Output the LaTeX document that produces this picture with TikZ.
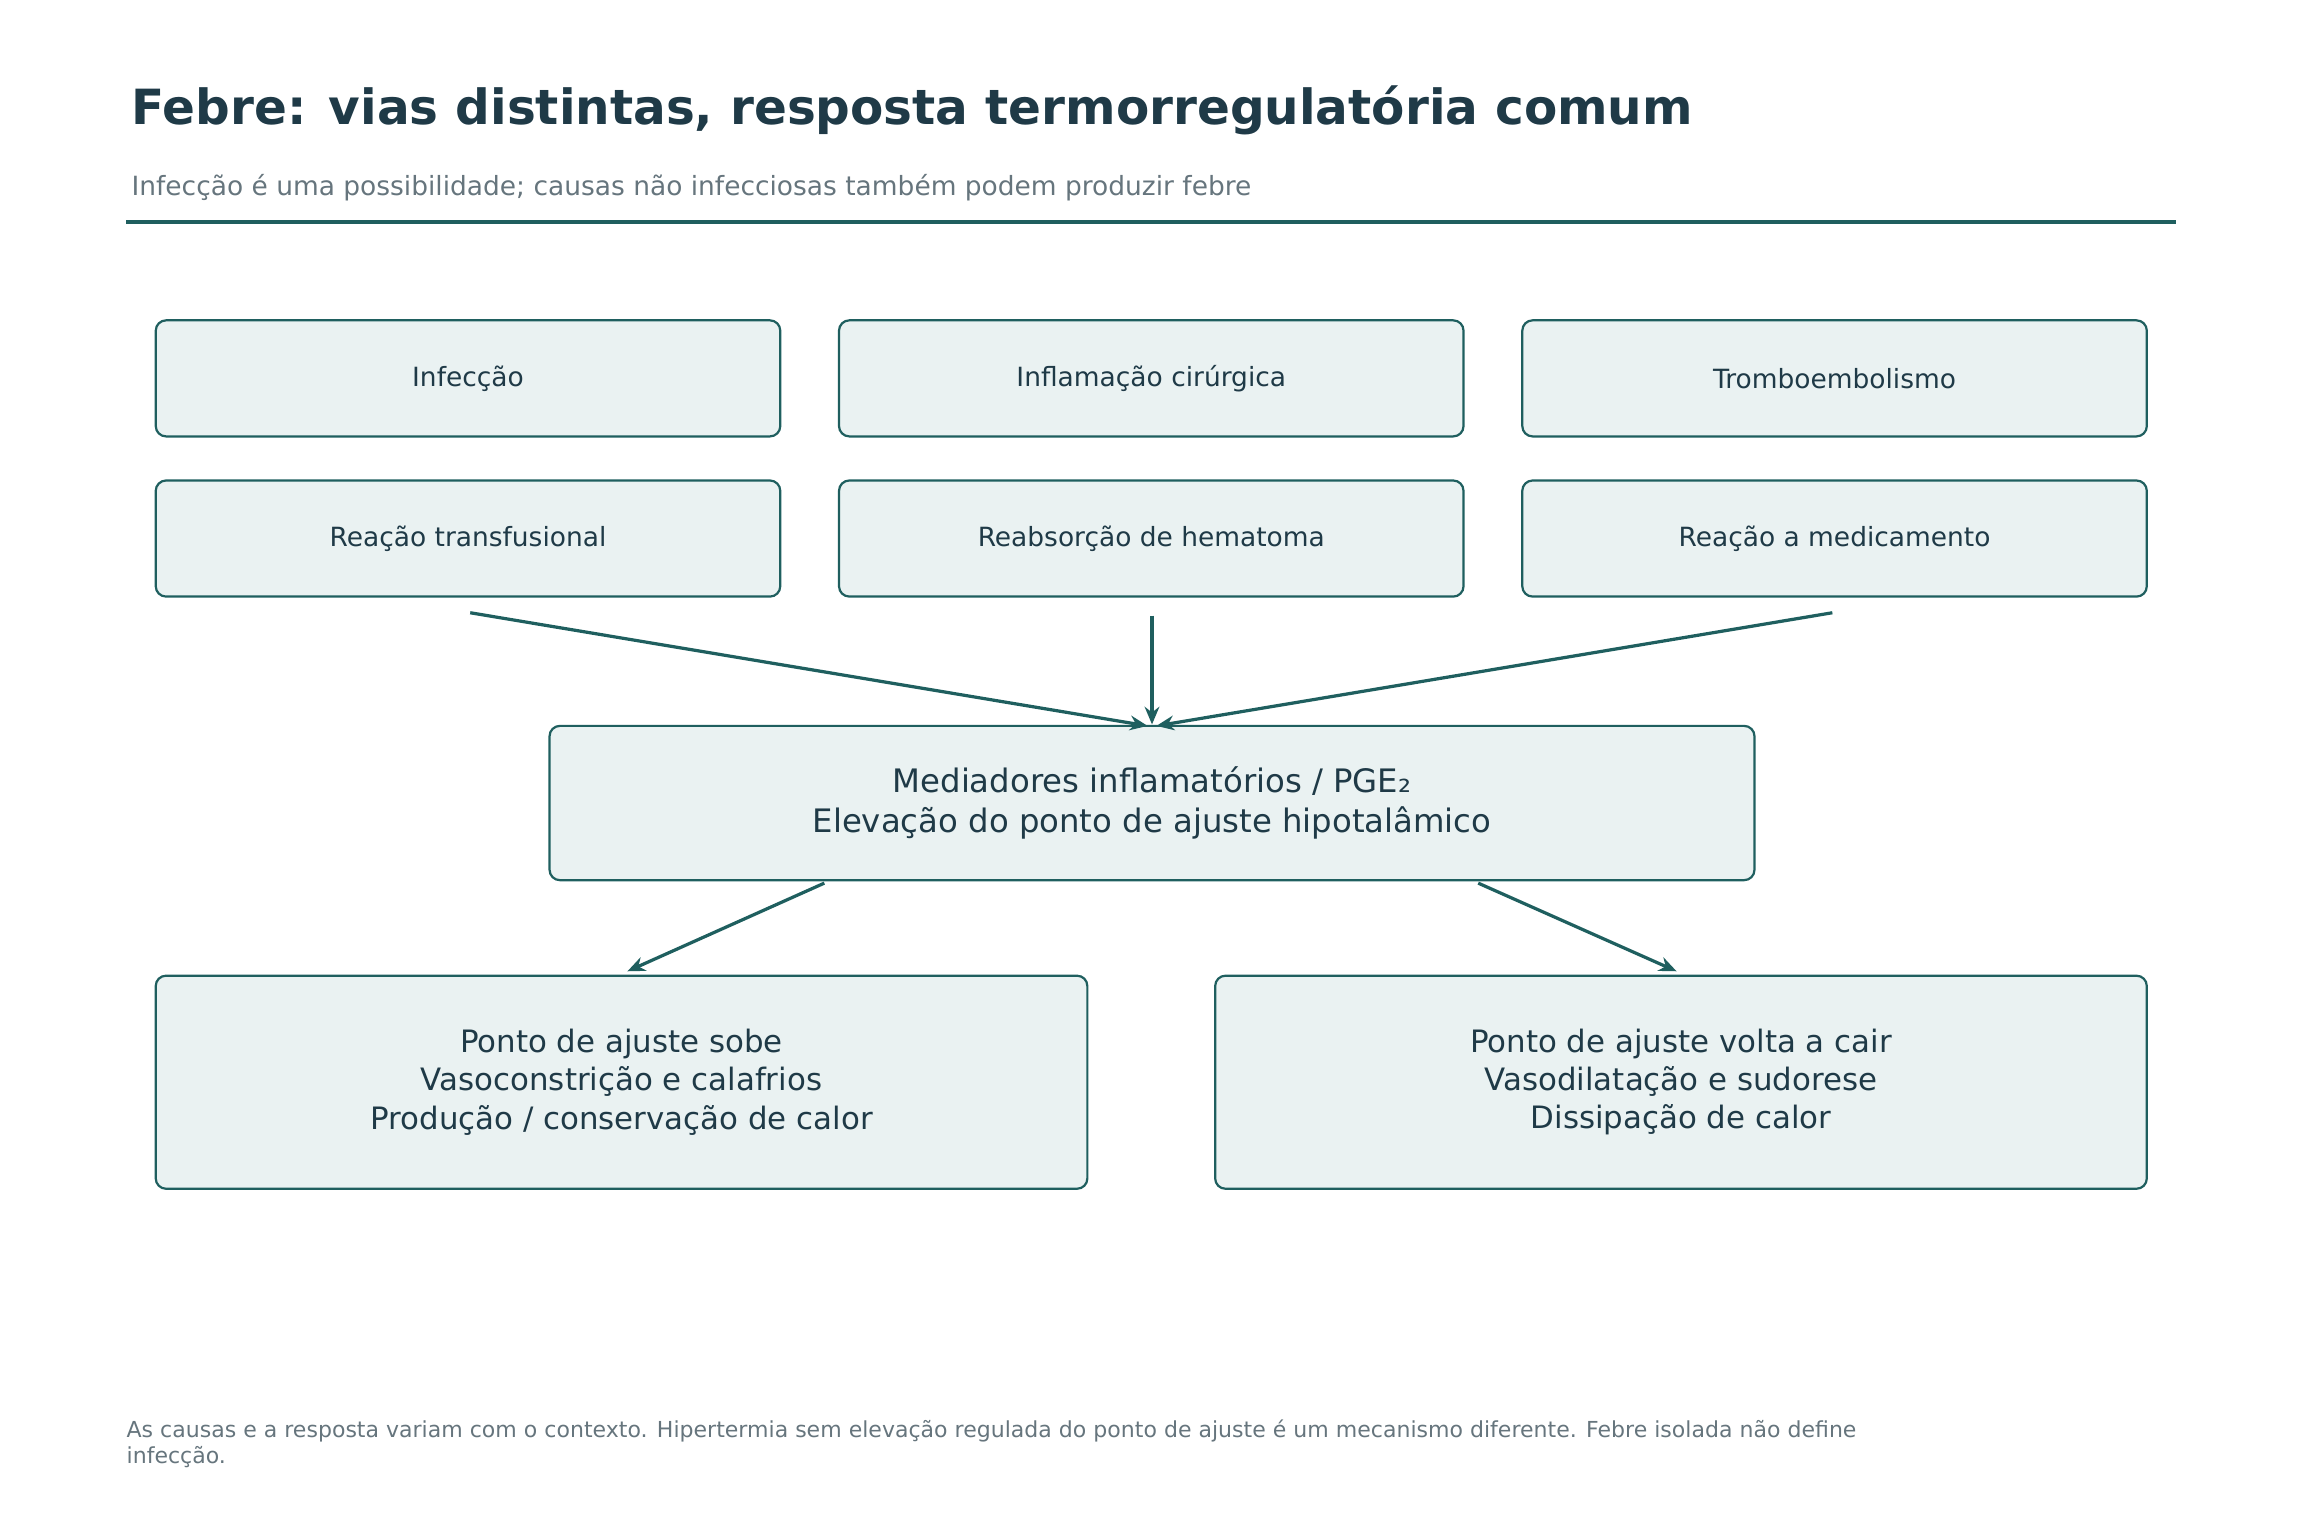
\documentclass[tikz,border=0pt]{standalone}
\usepackage{fontspec}
\setmainfont{DejaVu Sans}
\usetikzlibrary{arrows.meta}
\definecolor{ink}{HTML}{1F3A47}
\definecolor{teal}{HTML}{1F5F5F}
\definecolor{boxfill}{HTML}{EAF2F2}
\definecolor{grey}{HTML}{66757D}
\begin{document}
\begin{tikzpicture}[x=1pt,y=-1pt,
  box/.style={draw=teal,line width=1.5pt,fill=boxfill,rounded corners=7pt,inner sep=0pt,align=center,text=ink},
  arr/.style={draw=teal,line width=2.2pt,-{Stealth[length=12pt,width=10pt]}}]
\useasboundingbox (0,0) rectangle (1568,1045);
\node[anchor=base west,font=\bfseries\fontsize{33}{38}\selectfont,text=ink] (t) at (86,85) {Febre: vias distintas, resposta termorregulatória comum};
\node[anchor=base west,font=\fontsize{18}{22}\selectfont,text=grey] (s) at (86,133) {Infecção é uma possibilidade; causas não infecciosas também podem produzir febre};
\draw[teal,line width=2.2pt] (86,151) -- (1481,151);
\tikzset{r/.style={box,font=\fontsize{18}{22}\selectfont,minimum width=425pt,minimum height=79pt}}
\node[r] (a1) at (318.5,257.5) {Infecção};
\node[r] (a2) at (783.5,257.5) {Inflamação cirúrgica};
\node[r] (a3) at (1248.5,257.5) {Tromboembolismo};
\node[r] (b1) at (318.5,366.5) {Reação transfusional};
\node[r] (b2) at (783.5,366.5) {Reabsorção de hematoma};
\node[r] (b3) at (1248.5,366.5) {Reação a medicamento};
\node[box,font=\fontsize{22}{27}\selectfont,minimum width=820pt,minimum height=105pt] (m) at (784,546.5) {Mediadores inflamatórios / PGE₂\\Elevação do ponto de ajuste hipotalâmico};
\node[box,font=\fontsize{21}{26}\selectfont,minimum width=634pt,minimum height=145pt] (l) at (423,736.5) {Ponto de ajuste sobe\\Vasoconstrição e calafrios\\Produção / conservação de calor};
\node[box,font=\fontsize{21}{26}\selectfont,minimum width=634pt,minimum height=145pt] (rr) at (1144,736.5) {Ponto de ajuste volta a cair\\Vasodilatação e sudorese\\Dissipação de calor};
\coordinate (s1) at (320,417); \coordinate (s2) at (784,419); \coordinate (s3) at (1247,417);
\coordinate (e1) at (781,494); \coordinate (e2) at (784,493); \coordinate (e3) at (787,494);
\draw[arr] (s1) -- (e1);
\draw[arr] (s2) -- (e2);
\draw[arr] (s3) -- (e3);
\coordinate (m1) at (561,601); \coordinate (m2) at (1006,601);
\coordinate (l1) at (427,661); \coordinate (r1) at (1141,661);
\draw[arr] (m1) -- (l1);
\draw[arr] (m2) -- (r1);
\node[anchor=north west,align=left,font=\fontsize{15}{18}\selectfont,text=grey,inner sep=0pt] (f) at (86,966) {As causas e a resposta variam com o contexto. Hipertermia sem elevação regulada do ponto de ajuste é um mecanismo diferente. Febre isolada não define\\infecção.};
\end{tikzpicture}
\end{document}
